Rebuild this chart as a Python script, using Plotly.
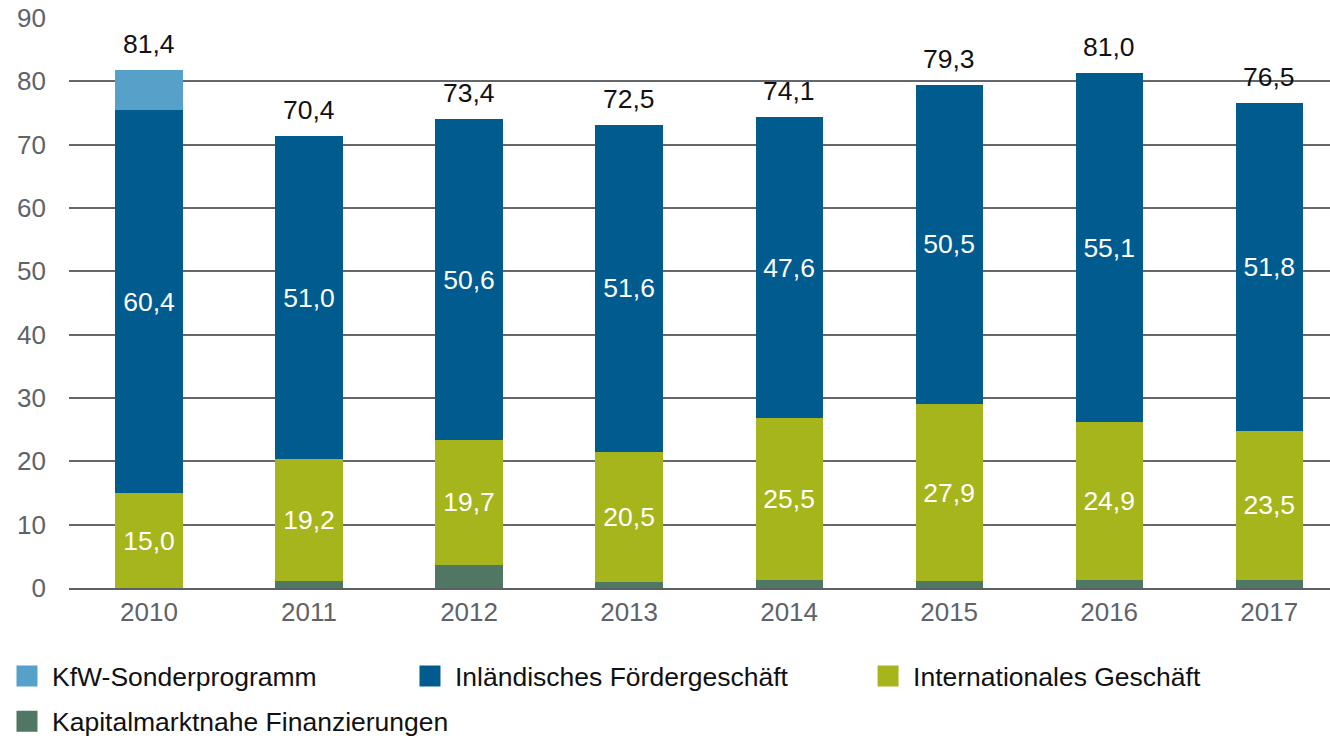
import plotly.graph_objects as go

years = ["2010", "2011", "2012", "2013", "2014", "2015", "2016", "2017"]
kapital = [0.0, 1.1, 3.7, 1.0, 1.3, 1.1, 1.3, 1.3]
international = [15.0, 19.2, 19.7, 20.5, 25.5, 27.9, 24.9, 23.5]
inland = [60.4, 51.0, 50.6, 51.6, 47.6, 50.5, 55.1, 51.8]
sonder = [6.4, 0, 0, 0, 0, 0, 0, 0]
total_labels = ["81,4", "70,4", "73,4", "72,5", "74,1", "79,3", "81,0", "76,5"]

names = ["KfW-Sonderprogramm", "Inländisches Fördergeschäft",
         "Internationales Geschäft", "Kapitalmarktnahe Finanzierungen"]
colors = {"sonder": "#55a1c9", "inland": "#005b8e",
          "intl": "#a6b51b", "kap": "#4f7764"}

FONT = "Liberation Sans, Arial, sans-serif"
BW = 0.42
VSIZE = 26.5


def fmt(v):
    return f"{v:.1f}".replace(".", ",")


fig = go.Figure()

fig.add_trace(go.Bar(x=years, y=kapital, width=BW, marker_color=colors["kap"],
                     marker_line_width=0, showlegend=False, hoverinfo="skip"))
fig.add_trace(go.Bar(x=years, y=international, width=BW, marker_color=colors["intl"],
                     marker_line_width=0, showlegend=False,
                     text=[fmt(v) for v in international], textposition="inside",
                     insidetextanchor="middle", textangle=0, constraintext="none",
                     textfont=dict(family=FONT, size=VSIZE, color="white")))
fig.add_trace(go.Bar(x=years, y=inland, width=BW, marker_color=colors["inland"],
                     marker_line_width=0, showlegend=False,
                     text=[fmt(v) for v in inland], textposition="inside",
                     insidetextanchor="middle", textangle=0, constraintext="none",
                     textfont=dict(family=FONT, size=VSIZE, color="white")))
fig.add_trace(go.Bar(x=years, y=sonder, width=BW, marker_color=colors["sonder"],
                     marker_line_width=0, showlegend=False, hoverinfo="skip"))

# legend entries (order as in reference), one legend box per entry
legend_ids = ["legend", "legend2", "legend3", "legend4"]
for nm, key, lid in zip(names, ["sonder", "inland", "intl", "kap"], legend_ids):
    fig.add_trace(go.Scatter(x=[None], y=[None], mode="markers", name=nm,
                             legend=lid,
                             marker=dict(symbol="square", size=16, color=colors[key],
                                         line=dict(width=5, color=colors[key]))))

totals = [a + b + c + d for a, b, c, d in zip(kapital, international, inland, sonder)]
for i, (t, lab) in enumerate(zip(totals, total_labels)):
    fig.add_annotation(x=i, y=t, text=lab, showarrow=False, yanchor="middle",
                       yshift=26, font=dict(family=FONT, size=VSIZE, color="#111111"))

legend_common = dict(orientation="h", xref="container", yref="container",
                     xanchor="left", yanchor="top", itemwidth=40,
                     traceorder="normal",
                     font=dict(family=FONT, size=VSIZE, color="#111111"),
                     bgcolor="rgba(0,0,0,0)")

fig.update_layout(
    barmode="stack",
    width=1330, height=738,
    margin=dict(l=69, r=0, t=18, b=150),
    paper_bgcolor="white", plot_bgcolor="white",
    font=dict(family=FONT, size=26, color="#5f6368"),
    legend=dict(x=0.0015, y=0.116, **legend_common),
    legend2=dict(x=0.3045, y=0.116, **legend_common),
    legend3=dict(x=0.6489, y=0.116, **legend_common),
    legend4=dict(x=0.0015, y=0.055, **legend_common),
    xaxis=dict(type="category", range=[-0.5, 7.38], showgrid=False, showline=True,
               linecolor="#5b6065", linewidth=2, ticks="",
               tickfont=dict(family=FONT, size=26, color="#5f6368"),
               ticklabelstandoff=0, fixedrange=True),
    yaxis=dict(range=[0, 90], dtick=10, showgrid=True, gridcolor="#64686c",
               gridwidth=1.5, zeroline=False, showline=False, ticks="",
               tickfont=dict(family=FONT, size=26, color="#5f6368"),
               ticklabelstandoff=22, fixedrange=True),
)

fig.write_html("out.html")
